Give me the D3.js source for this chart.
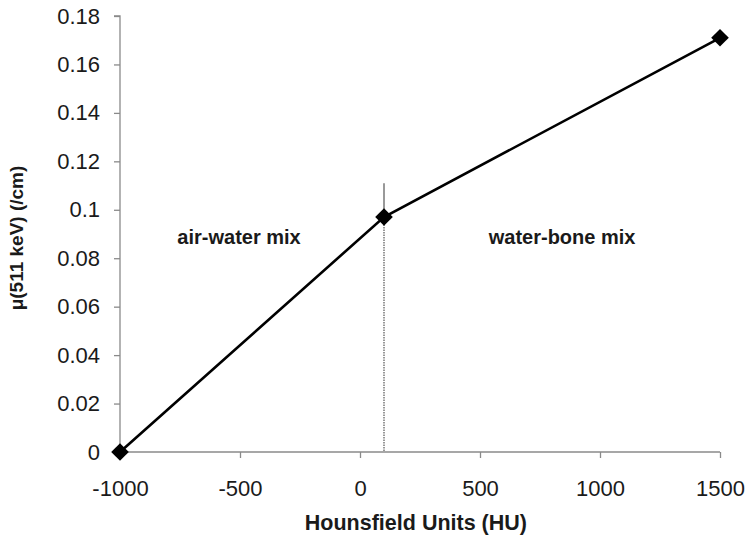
<!DOCTYPE html>
<html>
<head>
<meta charset="utf-8">
<script src="https://cdn.jsdelivr.net/npm/d3@7"></script>
<style>
  body { margin: 0; background: #fff; }
  text { font-family: "Liberation Sans", Arial, sans-serif; fill: #1a1a1a; }
</style>
</head>
<body>
<svg id="chart" width="747" height="536"></svg>
<script>
// data
const hu = [-1000, 100, 1500];
const mu = [0, 0.097, 0.171];
const xTicks = [-1000, -500, 0, 500, 1000, 1500];
const yTicks = [0, 0.02, 0.04, 0.06, 0.08, 0.1, 0.12, 0.14, 0.16, 0.18];
const splitHU = 100;
const splitTop = 0.111;
const regions = [
  { label: 'air-water mix', hu: -504 },
  { label: 'water-bone mix', hu: 842 }
];
const regionMu = 0.086;

const svg = d3.select('#chart');
const margin = { top: 16, left: 120, right: 27, bottom: 84 };
const width = 747 - margin.left - margin.right;
const height = 536 - margin.top - margin.bottom;

const x = d3.scaleLinear().domain([-1000, 1500]).range([0, width]);
const y = d3.scaleLinear().domain([0, 0.18]).range([height, 0]);

const chart = svg.append('g')
  .attr('transform', `translate(${margin.left}, ${margin.top})`);

// axes
const xAxis = chart.append('g')
  .attr('transform', `translate(0, ${height})`)
  .call(d3.axisBottom(x).tickValues(xTicks).tickSize(6).tickPadding(22).tickFormat(d => String(d)));
const yAxis = chart.append('g')
  .call(d3.axisLeft(y).tickValues(yTicks).tickSize(6).tickPadding(14).tickFormat(d => d === 0 ? '0' : String(+d.toFixed(2))));

[xAxis, yAxis].forEach(a => {
  a.selectAll('path.domain').attr('stroke', '#8a8a8a').attr('stroke-width', 1.3);
  a.selectAll('.tick line').attr('stroke', '#8a8a8a').attr('stroke-width', 1.3);
  a.selectAll('.tick text')
    .style('font-family', '"Liberation Sans", Arial, sans-serif')
    .style('font-size', '22px')
    .attr('fill', '#1a1a1a');
});
yAxis.selectAll('path.domain').attr('d', `M0,${height}V0H-6`);
xAxis.selectAll('path.domain').attr('d', `M0,0H${width}`);

// vertical divider at the boundary
chart.append('line')
  .attr('x1', x(splitHU)).attr('x2', x(splitHU))
  .attr('y1', y(splitTop)).attr('y2', y(mu[1]))
  .attr('stroke', '#777').attr('stroke-width', 1.5);
chart.append('line')
  .attr('x1', x(splitHU)).attr('x2', x(splitHU))
  .attr('y1', y(mu[1])).attr('y2', y(0))
  .attr('stroke', '#777').attr('stroke-width', 1.5)
  .attr('stroke-dasharray', '1.5,1');

// line and markers
const pts = hu.map((h, i) => ({ h, m: mu[i] }));
const line = d3.line().x(d => x(d.h)).y(d => y(d.m));
chart.append('path')
  .datum(pts)
  .attr('d', line)
  .attr('fill', 'none')
  .attr('stroke', '#000')
  .attr('stroke-width', 2.6);

chart.selectAll('path.marker')
  .data(pts)
  .enter()
  .append('path')
  .attr('class', 'marker')
  .attr('d', d3.symbol().type(d3.symbolSquare).size(155))
  .attr('transform', d => `translate(${x(d.h)}, ${y(d.m)}) rotate(45)`)
  .attr('fill', '#000');

// region labels
chart.selectAll('text.region')
  .data(regions)
  .enter()
  .append('text')
  .attr('class', 'region')
  .attr('x', d => x(d.hu))
  .attr('y', y(regionMu))
  .attr('text-anchor', 'middle')
  .style('font-size', '20px')
  .style('font-weight', 'bold')
  .text(d => d.label);

// axis titles
svg.append('text')
  .attr('x', margin.left + x(233))
  .attr('y', 530)
  .attr('text-anchor', 'middle')
  .style('font-size', '21.5px')
  .style('font-weight', 'bold')
  .text('Hounsfield Units (HU)');

svg.append('text')
  .attr('transform', `translate(23, 238) rotate(-90)`)
  .attr('text-anchor', 'middle')
  .style('font-size', '19px')
  .style('font-weight', 'bold')
  .text('μ(511 keV) (/cm)');
</script>
</body>
</html>
